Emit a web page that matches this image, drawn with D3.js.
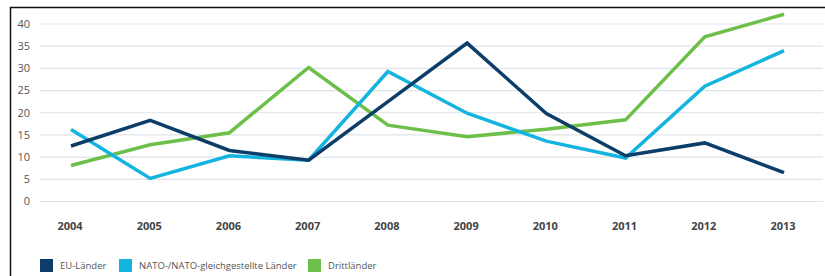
<!DOCTYPE html>
<html>
<head>
<meta charset="utf-8">
<script src="https://cdn.jsdelivr.net/npm/d3@7"></script>
<style>
  body { margin: 0; background: #fff; }
  svg { display: block; font-family: "Open Sans", "Noto Sans", sans-serif; }
  .grid line { stroke: #dfe3e6; stroke-width: 1.2; }
  .ytick { fill: #555; font-size: 11px; }
  .xtick { fill: #444; font-size: 11px; font-weight: bold; }
  .legend text { fill: #555; font-size: 9.5px; }
</style>
</head>
<body>
<script>
var years = [2004, 2005, 2006, 2007, 2008, 2009, 2010, 2011, 2012, 2013];
var yTicks = [0, 5, 10, 15, 20, 25, 30, 35, 40];

var seriesNames = ["EU-Länder", "NATO-/NATO-gleichgestellte Länder", "Drittländer"];
var euValues = [12.5, 18.3, 11.5, 9.3, 22.5, 35.7, 19.8, 10.3, 13.2, 6.5];
var natoValues = [16.2, 5.2, 10.3, 9.3, 29.3, 19.9, 13.6, 9.8, 26.0, 34.0];
var drittValues = [8.1, 12.8, 15.5, 30.2, 17.2, 14.6, 16.3, 18.4, 37.1, 42.2];
var colors = ["#0d3e69", "#14b4e0", "#6cc04a"];

var width = 825, height = 276;

var svg = d3.select("body").append("svg")
    .attr("width", width)
    .attr("height", height);

// frame
svg.append("line").attr("x1", 10).attr("x2", width).attr("y1", 7.5).attr("y2", 7.5)
    .attr("stroke", "#111").attr("stroke-width", 1.5);
svg.append("line").attr("x1", 10.5).attr("x2", 10.5).attr("y1", 7).attr("y2", height)
    .attr("stroke", "#111").attr("stroke-width", 1.5);

var x = d3.scalePoint()
    .domain(years)
    .range([71, 784]);

var y = d3.scaleLinear()
    .domain([0, 40])
    .range([201.5, 24]);

// grid
svg.append("g").attr("class", "grid")
  .selectAll("line")
  .data(yTicks)
  .enter().append("line")
    .attr("x1", 40).attr("x2", 823)
    .attr("y1", function(d) { return y(d); })
    .attr("y2", function(d) { return y(d); });

svg.append("g")
  .selectAll("text")
  .data(yTicks)
  .enter().append("text")
    .attr("class", "ytick")
    .attr("x", 30)
    .attr("y", function(d) { return y(d); })
    .attr("dy", "0.35em")
    .attr("text-anchor", "end")
    .text(function(d) { return d; });

svg.append("g")
  .selectAll("text")
  .data(years)
  .enter().append("text")
    .attr("class", "xtick")
    .attr("x", function(d) { return x(d) - 1; })
    .attr("y", 230)
    .attr("text-anchor", "middle")
    .text(function(d) { return d; });

var line = d3.line()
    .x(function(d, i) { return x(years[i]); })
    .y(function(d) { return y(d); });

var allSeries = [euValues, natoValues, drittValues];

// draw green first, then cyan, navy on top
[2, 1, 0].forEach(function(k) {
  svg.append("path")
      .datum(allSeries[k])
      .attr("fill", "none")
      .attr("stroke", colors[k])
      .attr("stroke-width", 3.5)
      .attr("stroke-linejoin", "miter")
      .attr("d", line);
});

// legend
var legendX = [40, 119, 308];
var legend = svg.append("g").attr("class", "legend")
  .selectAll("g")
  .data(seriesNames)
  .enter().append("g")
    .attr("transform", function(d, i) { return "translate(" + legendX[i] + ",259)"; });

legend.append("rect")
    .attr("width", 13).attr("height", 13)
    .attr("fill", function(d, i) { return colors[i]; });

legend.append("text")
    .attr("x", 20)
    .attr("y", 7)
    .attr("dy", "0.35em")
    .text(function(d) { return d; });
</script>
</body>
</html>
